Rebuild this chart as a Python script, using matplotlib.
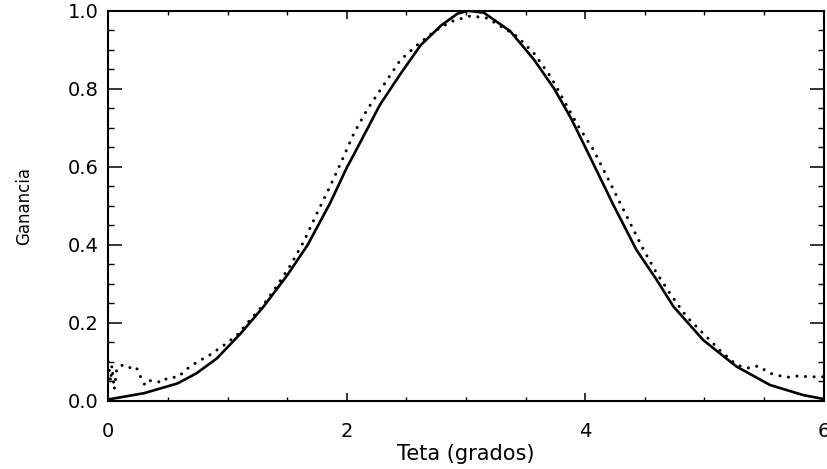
import matplotlib
matplotlib.use('Agg')
import matplotlib.pyplot as plt
from matplotlib.ticker import MultipleLocator

# curva continua (ganancia teorica)
solid_x = [0.0, 0.30, 0.58, 0.74, 0.91, 1.11, 1.30, 1.50, 1.67, 1.86, 2.00, 2.06,
           2.28, 2.45, 2.62, 2.79, 2.93, 3.02, 3.15, 3.37, 3.57, 3.74, 3.88, 4.02,
           4.24, 4.43, 4.60, 4.74, 4.99, 5.27, 5.55, 5.83, 6.0]
solid_y = [0.004, 0.02, 0.045, 0.071, 0.109, 0.173, 0.241, 0.322, 0.399, 0.507, 0.598, 0.632,
           0.76, 0.838, 0.912, 0.962, 0.993, 1.0, 0.995, 0.948, 0.875, 0.80, 0.725, 0.638,
           0.50, 0.387, 0.31, 0.242, 0.156, 0.088, 0.041, 0.015, 0.005]

# curva punteada (ganancia medida)
dot_x = [0.0, 0.02, 0.03, 0.05, 0.07, 0.11, 0.17, 0.21, 0.25, 0.28, 0.31, 0.35,
         0.39, 0.45, 0.49, 0.53, 0.59, 0.65, 0.72, 0.85, 0.97, 1.08, 1.19, 1.30,
         1.41, 1.53, 1.64, 1.75, 1.86, 1.95, 2.06, 2.17, 2.31, 2.45, 2.59, 2.73,
         2.87, 3.04, 3.18, 3.32, 3.43, 3.57, 3.71, 3.82, 3.93, 4.07, 4.21, 4.35,
         4.49, 4.60, 4.71, 4.85, 4.99, 5.13, 5.27, 5.38, 5.45, 5.55, 5.64, 5.71,
         5.78, 5.89, 6.0]
dot_y = [0.10, 0.05, 0.09, 0.03, 0.08, 0.092, 0.084, 0.09, 0.08, 0.054, 0.04, 0.052,
         0.052, 0.047, 0.058, 0.06, 0.062, 0.08, 0.095, 0.118, 0.143, 0.169, 0.208, 0.246,
         0.293, 0.349, 0.409, 0.481, 0.55, 0.61, 0.686, 0.746, 0.81, 0.874, 0.912, 0.946,
         0.972, 0.987, 0.981, 0.955, 0.934, 0.891, 0.831, 0.771, 0.71, 0.643, 0.558, 0.472,
         0.387, 0.327, 0.276, 0.216, 0.173, 0.13, 0.092, 0.084, 0.09, 0.071, 0.064, 0.061,
         0.064, 0.062, 0.062]

plt.rcParams['font.family'] = ['DejaVu Sans']

fig = plt.figure(figsize=(8.28, 4.69), dpi=100)
ax = fig.add_axes([0.1308, 0.145, 0.864, 0.832])

ax.plot(solid_x, solid_y, color='black', lw=1.9, solid_capstyle='round')
ax.plot(dot_x, dot_y, color='black', lw=2.2, linestyle=(0, (0.01, 2.8)),
        dash_capstyle='round')

ax.set_xlim(0, 6)
ax.set_ylim(0, 1)

ax.xaxis.set_major_locator(MultipleLocator(2))
ax.xaxis.set_minor_locator(MultipleLocator(0.5))
ax.yaxis.set_major_locator(MultipleLocator(0.2))
ax.yaxis.set_minor_locator(MultipleLocator(0.05))
ax.yaxis.set_major_formatter(matplotlib.ticker.FormatStrFormatter('%.1f'))

ax.tick_params(axis='x', which='major', direction='in', length=6, width=1.1,
               top=True, pad=15, labelsize=14)
ax.tick_params(axis='x', which='minor', direction='in', length=3, width=1.0, top=True)
ax.tick_params(axis='y', which='major', direction='in', length=10, width=1.1,
               right=True, pad=7, labelsize=14)
ax.tick_params(axis='y', which='minor', direction='in', length=4.5, width=1.0, right=True)

for s in ax.spines.values():
    s.set_linewidth(1.5)

ax.set_xlabel('Teta (grados)', fontsize=15, labelpad=2)
ax.set_ylabel('Ganancia', fontsize=12)
ax.yaxis.set_label_coords(-0.105, 0.5)

fig.savefig('out.png', dpi=100)
